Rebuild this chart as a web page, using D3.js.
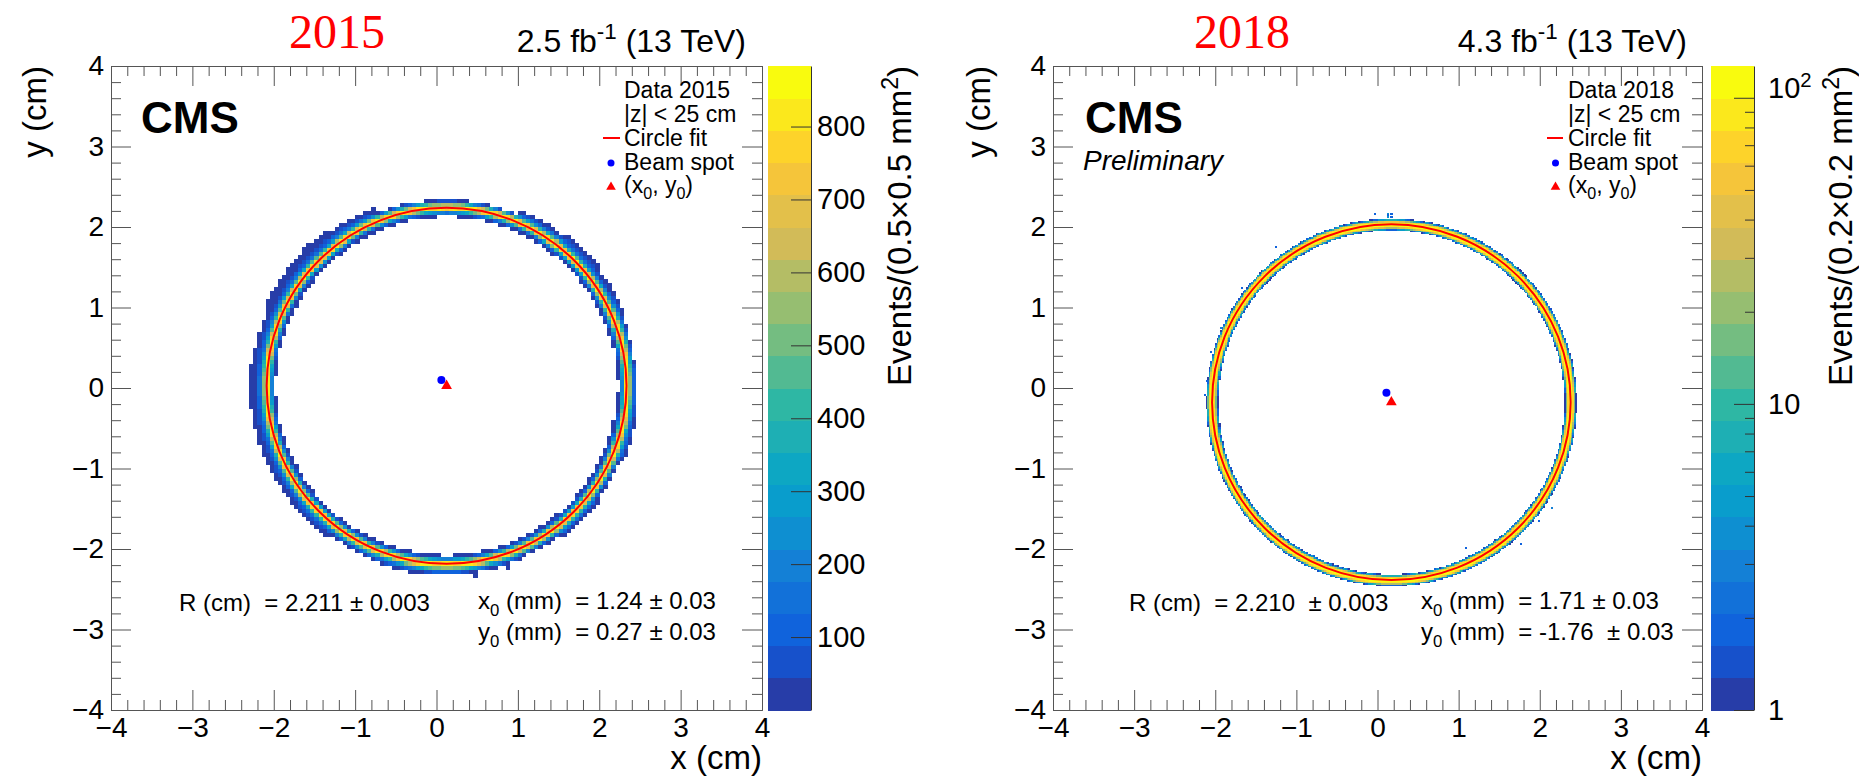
<!DOCTYPE html>
<html><head><meta charset="utf-8">
<script src="https://cdn.jsdelivr.net/npm/d3@7"></script>
<style>
body{margin:0;background:#fff}
text{font-family:"Liberation Sans",Arial,Helvetica,sans-serif;fill:#000;white-space:pre}
</style>
</head><body>
<svg id="c" width="1859" height="780"></svg>
<script>
// ---------------- data ----------------
const years = ["2015", "2018"];
const lumis = ["2.5", "4.3"];
const dataLabels = ["Data 2015", "Data 2018"];
const binSizeCm = [0.05, 0.02];
const binUnits = ["0.5\u00D70.5 mm", "0.2\u00D70.2 mm"];
const fitR = [2.211, 2.210];
const fitX0 = [0.124, 0.171];
const fitY0 = [0.027, -0.176];
const beamX = [0.06, 0.11];
const beamY = [0.10, -0.06];
const zMax = [883, 127];
const axisTicks = [-4, -3, -2, -1, 0, 1, 2, 3, 4];
const axisMinorTicks = [-3.8,-3.6,-3.4,-3.2,-2.8,-2.6,-2.4,-2.2,-1.8,-1.6,-1.4,-1.2,-0.8,-0.6,-0.4,-0.2,
  0.2,0.4,0.6,0.8,1.2,1.4,1.6,1.8,2.2,2.4,2.6,2.8,3.2,3.4,3.6,3.8];
const cbTicks2015 = [100, 200, 300, 400, 500, 600, 700, 800];
const cbTicks2018 = [1, 10, 100];
const cbMinor2018 = [2,3,4,5,6,7,8,9,20,30,40,50,60,70,80,90];
// radial profile of counts vs signed offset from the fitted circle (cm, + = outward)
const profStart = [-0.1, -0.08];
const profStep = [0.025, 0.01];
const profile2015 = [0, 60, 300, 650, 900, 750, 420, 200, 90, 50, 30, 20, 15, 0];
const profile2018 = [0, 1, 3, 12, 40, 80, 105, 115, 120, 115, 105, 80, 40, 12, 3, 1, 0];
// 2015 outer halo extent (cm) per 15-degree sector, starting at 0 deg (right), counter-clockwise
const halo2015 = [0.11,0.09,0.12,0.16,0.12,0.07,0.08,0.08,0.15,0.2,0.2,0.16,0.18,0.17,0.16,0.16,0.1,0.12,0.1,0.1,0.08,0.12,0.08,0.13];
// isolated hits
const stray2015X = [1.64, 0.86, 0.47, -1.95];
const stray2015Y = [-1.78, -2.21, -2.32, -1.05];
const stray2015V = [30, 20, 25, 30];
const stray2018X = [0.12,0.14,0.16,0.12,0.12,0.14,0.16,-0.03,-2.11,-2.12,-1.94,-1.66,2.15,1.98,1.76,2.0,-2.05,-1.25,1.1];
const stray2018Y = [2.17,2.17,2.17,2.15,2.13,2.13,2.13,2.17,0.10,-0.10,0.76,1.24,-1.49,-1.65,-1.94,1.12,0.45,1.75,-2.0];
const stray2018V = [2,2,2,2,2,2,2,2,2,2,3,2,3,2,2,2,2,2,2];
const statNames = [["R (cm)", "x0 (mm)", "y0 (mm)"], ["R (cm)", "x0 (mm)", "y0 (mm)"]];
const statVals = [["2.211", "1.24", "0.27"], ["2.210", "1.71", "-1.76"]];
const statErrs = [["0.003", "0.03", "0.03"], ["0.003", "0.03", "0.03"]];

// ---------------- layout ----------------
const L = [
  {fx0:111, fx1:762, cb0:767.5, cb1:811, cbLab:817, cbTitleX:911, yLabX:46, yearX:337, cmsX:141, lumiX:746,
   legX:624, legMX:611, legL0:603, legL1:620,
   statPos:[[179,611],[478,609],[478,640]], pmGap:[" ", " ", " "]},
  {fx0:1053, fx1:1702, cb0:1711, cb1:1754, cbLab:1768, cbTitleX:1852, yLabX:990, yearX:1242, cmsX:1085, lumiX:1687,
   legX:1568, legMX:1555.5, legL0:1547, legL1:1563,
   statPos:[[1129,611],[1421,609],[1421,640]], pmGap:["  ", " ", "  "]}
];
const FY0 = 66, FY1 = 710;
const legBase = [98, 122, 146, 170, 193];

const bird = d3.scaleLinear()
  .domain([0,.125,.25,.375,.5,.625,.75,.875,1])
  .range(["#352a87","#0f5cdd","#1481d6","#06a4ca","#2eb7a4","#87bf77","#d1bb59","#fec832","#f9fb0e"]);
const bandColors = d3.range(20).map(i => bird(Math.floor((i + 0.99) * 255 / 20) / 254));

const svg = d3.select("#c");

function lookup(prof, st, sp, d) {
  const k = Math.round((d - st) / sp);
  return (k >= 0 && k < prof.length) ? prof[k] : 0;
}

function buildBins(p) {
  const bs = binSizeCm[p];
  const lo = axisTicks[0], hi = axisTicks[axisTicks.length-1];
  const nb = Math.round((hi - lo) / bs);
  const R = fitR[p], cx0 = fitX0[p], cy0 = fitY0[p];
  const prof = p === 0 ? profile2015 : profile2018;
  const st = profStart[p], sp = profStep[p];
  const ns = p === 0 ? 5 : 4;
  const bins = new Map();
  for (let i = 0; i < nb; i++) {
    const xl = lo + i*bs;
    for (let j = 0; j < nb; j++) {
      const yl = lo + j*bs;
      const rc = Math.hypot(xl + bs/2 - cx0, yl + bs/2 - cy0);
      if (Math.abs(rc - R) > 0.3) continue;
      let sum = 0;
      for (let a = 0; a < ns; a++) for (let b = 0; b < ns; b++) {
        const sx = xl + (a+0.5)*bs/ns - cx0, sy = yl + (b+0.5)*bs/ns - cy0;
        const d = Math.hypot(sx, sy) - R;
        let v = lookup(prof, st, sp, d);
        if (p === 0 && d > 0.04) {
          const ang = (Math.atan2(sy, sx)*180/Math.PI + 360) % 360;
          const sec = Math.round(ang/15) % 24;
          if (d > halo2015[sec]) v = 0;
        }
        sum += v;
      }
      const val = sum/(ns*ns);
      if (val > 0) bins.set(i*nb + j, {x: xl, y: yl, v: val});
    }
  }
  const sX = p === 0 ? stray2015X : stray2018X;
  const sY = p === 0 ? stray2015Y : stray2018Y;
  const sV = p === 0 ? stray2015V : stray2018V;
  sX.forEach((x, k) => {
    const i = Math.floor((x - lo)/bs), j = Math.floor((sY[k] - lo)/bs);
    const key = i*nb + j;
    const b = bins.get(key);
    if (b) b.v += sV[k]; else bins.set(key, {x: lo + i*bs, y: lo + j*bs, v: sV[k]});
  });
  return Array.from(bins.values());
}

function subText(sel, parts, fs) {
  let shift = 0;
  parts.forEach(([s, k]) => {
    const t = sel.append("tspan").text(s);
    let target = 0;
    if (k === "sub") { t.attr("font-size", fs*0.7); target = fs*0.28; }
    else if (k === "sup") { t.attr("font-size", fs*0.7); target = -fs*0.4; }
    t.attr("dy", target - shift);
    shift = target;
  });
}

function drawPanel(p) {
  const c = L[p];
  const g = svg.append("g");
  const x = d3.scaleLinear().domain([axisTicks[0], axisTicks[8]]).range([c.fx0, c.fx1]);
  const y = d3.scaleLinear().domain([axisTicks[0], axisTicks[8]]).range([FY1, FY0]);
  const bs = binSizeCm[p];

  // histogram cells
  const bins = buildBins(p);
  const zm = zMax[p];
  const band = p === 0
    ? v => Math.min(19, Math.floor(v/zm*20))
    : v => v < 1 ? -1 : Math.min(19, Math.floor(Math.log10(v)/Math.log10(zm)*20));
  g.append("g").attr("shape-rendering", "crispEdges")
    .selectAll("rect").data(bins.filter(b => band(b.v) >= 0)).join("rect")
    .attr("x", b => x(b.x)).attr("y", b => y(b.y + bs))
    .attr("width", b => x(b.x + bs) - x(b.x) + 0.4)
    .attr("height", b => y(b.y) - y(b.y + bs) + 0.4)
    .attr("fill", b => bandColors[band(b.v)]);

  // fit circle
  g.append("ellipse")
    .attr("cx", x(fitX0[p])).attr("cy", y(fitY0[p]))
    .attr("rx", x(fitX0[p] + fitR[p]) - x(fitX0[p]))
    .attr("ry", y(fitY0[p]) - y(fitY0[p] + fitR[p]))
    .attr("fill", "none").attr("stroke", "#ff0000").attr("stroke-width", 2);

  // beam spot & fitted centre
  g.append("circle").attr("cx", x(beamX[p])).attr("cy", y(beamY[p])).attr("r", 4).attr("fill", "#0000ff");
  const tri = d3.symbol().type(d3.symbolTriangle).size(50);
  g.append("path").attr("d", tri).attr("fill", "#ff0000")
    .attr("transform", `translate(${x(fitX0[p])},${y(fitY0[p])})`);

  // axes (ticks inside the frame)
  const axStyle = s => { s.selectAll("path,line").attr("stroke", "#555"); s.selectAll("text").remove(); };
  const major = 20, minor = 10;
  const axB = g.append("g").attr("transform", `translate(0,${FY1})`)
    .call(d3.axisBottom(x).tickValues(axisTicks).tickSize(-major).tickSizeOuter(0).tickPadding(7).tickFormat(d3.format("d")));
  axB.selectAll("path,line").attr("stroke", "#555");
  axB.selectAll("text").attr("font-size", 28).attr("font-family", "Liberation Sans, Arial").attr("fill", "#000");
  g.append("g").attr("transform", `translate(0,${FY1})`)
    .call(d3.axisBottom(x).tickValues(axisMinorTicks).tickSize(-minor).tickSizeOuter(0)).call(axStyle);
  const axL = g.append("g").attr("transform", `translate(${c.fx0},0)`)
    .call(d3.axisLeft(y).tickValues(axisTicks).tickSize(-major).tickSizeOuter(0).tickPadding(7).tickFormat(d3.format("d")));
  axL.selectAll("path,line").attr("stroke", "#555");
  axL.selectAll("text").attr("font-size", 28).attr("font-family", "Liberation Sans, Arial").attr("fill", "#000");
  g.append("g").attr("transform", `translate(${c.fx0},0)`)
    .call(d3.axisLeft(y).tickValues(axisMinorTicks).tickSize(-minor).tickSizeOuter(0)).call(axStyle);
  g.append("g").attr("transform", `translate(0,${FY0})`)
    .call(d3.axisTop(x).tickValues(axisTicks).tickSize(-major).tickSizeOuter(0)).call(axStyle);
  g.append("g").attr("transform", `translate(0,${FY0})`)
    .call(d3.axisTop(x).tickValues(axisMinorTicks).tickSize(-minor).tickSizeOuter(0)).call(axStyle);
  g.append("g").attr("transform", `translate(${c.fx1},0)`)
    .call(d3.axisRight(y).tickValues(axisTicks).tickSize(-major).tickSizeOuter(0)).call(axStyle);
  g.append("g").attr("transform", `translate(${c.fx1},0)`)
    .call(d3.axisRight(y).tickValues(axisMinorTicks).tickSize(-minor).tickSizeOuter(0)).call(axStyle);

  // axis titles
  g.append("text").attr("x", c.fx1).attr("y", 769).attr("text-anchor", "end").attr("font-size", 33).text("x (cm)");
  g.append("text").attr("transform", `translate(${c.yLabX},${FY0}) rotate(-90)`).attr("text-anchor", "end")
    .attr("font-size", 33).text("y (cm)");

  // colour bar
  const cbScale = p === 0
    ? d3.scaleLinear().domain([0, zm]).range([FY1, FY0])
    : d3.scaleLog().domain([1, zm]).range([FY1, FY0]);
  const edges = d3.range(21).map(i => p === 0 ? i*zm/20 : Math.pow(10, i*Math.log10(zm)/20));
  g.append("g").attr("shape-rendering", "crispEdges").selectAll("rect").data(d3.range(20)).join("rect")
    .attr("x", c.cb0).attr("width", c.cb1 - c.cb0)
    .attr("y", i => cbScale(edges[i+1])).attr("height", i => cbScale(edges[i]) - cbScale(edges[i+1]) + 0.5)
    .attr("fill", i => bandColors[i]);
  const cbAx = g.append("g").attr("transform", `translate(${c.cb1},0)`)
    .call(d3.axisRight(cbScale).tickValues(p === 0 ? cbTicks2015 : cbTicks2018)
      .tickSize(-20).tickSizeOuter(0).tickPadding(c.cbLab - c.cb1).tickFormat(d => d));
  cbAx.selectAll("path,line").attr("stroke", "#333");
  cbAx.selectAll("text").attr("font-size", 29).attr("font-family", "Liberation Sans, Arial").attr("fill", "#000");
  if (p === 1) {
    cbAx.selectAll("text").each(function(d) {
      const t = d3.select(this);
      if (d === 100) { t.text(""); subText(t, [["10", "n"], ["2", "sup"]], 29); }
    });
    g.append("g").attr("transform", `translate(${c.cb1},0)`)
      .call(d3.axisRight(cbScale).tickValues(cbMinor2018).tickSize(-9).tickSizeOuter(0))
      .call(s => { s.select("path").remove(); s.selectAll("line").attr("stroke", "#333"); s.selectAll("text").remove(); });
  }
  const cbt = g.append("text").attr("transform", `translate(${c.cbTitleX},${FY0}) rotate(-90)`)
    .attr("text-anchor", "end").attr("font-size", 33);
  subText(cbt, [["Events/(" + binUnits[p], "n"], ["2", "sup"], [")", "n"]], 33);

  // header
  g.append("text").attr("x", c.yearX).attr("y", 48).attr("text-anchor", "middle")
    .style("font-family", "'Liberation Serif', 'Times New Roman', serif")
    .attr("font-size", 48).style("fill", "#ff0000").text(years[p]);
  const lt = g.append("text").attr("x", c.lumiX).attr("y", 52).attr("text-anchor", "end").attr("font-size", 32);
  subText(lt, [[lumis[p] + " fb", "n"], ["-1", "sup"], [" (13 TeV)", "n"]], 32);
  g.append("text").attr("x", c.cmsX).attr("y", 133).attr("font-size", 44).attr("font-weight", "bold").text("CMS");
  if (p === 1) g.append("text").attr("x", c.cmsX - 2).attr("y", 170).attr("font-size", 28)
    .attr("font-style", "italic").text("Preliminary");

  // legend
  const lg = g.append("g").attr("font-size", 23);
  lg.append("text").attr("x", c.legX).attr("y", legBase[0]).text(dataLabels[p]);
  lg.append("text").attr("x", c.legX).attr("y", legBase[1]).text("|z| < 25 cm");
  lg.append("text").attr("x", c.legX).attr("y", legBase[2]).text("Circle fit");
  lg.append("text").attr("x", c.legX).attr("y", legBase[3]).text("Beam spot");
  const lx = lg.append("text").attr("x", c.legX).attr("y", legBase[4]);
  subText(lx, [["(x", "n"], ["0", "sub"], [", y", "n"], ["0", "sub"], [")", "n"]], 23);
  lg.append("line").attr("x1", c.legL0).attr("x2", c.legL1).attr("y1", legBase[2] - 8).attr("y2", legBase[2] - 8)
    .attr("stroke", "#ff0000").attr("stroke-width", 2);
  lg.append("circle").attr("cx", c.legMX).attr("cy", legBase[3] - 7).attr("r", 3.5).attr("fill", "#0000ff");
  lg.append("path").attr("d", d3.symbol().type(d3.symbolTriangle).size(40)).attr("fill", "#ff0000")
    .attr("transform", `translate(${c.legMX},${legBase[4] - 6})`);

  // fit results
  const sg = g.append("g").attr("font-size", 24);
  for (let r = 0; r < 3; r++) {
    const [nx, by] = c.statPos[r];
    const nt = sg.append("text").attr("x", nx).attr("y", by);
    const nm = statNames[p][r];
    const tail = "  = " + statVals[p][r] + c.pmGap[r] + "\u00B1 " + statErrs[p][r];
    if (r === 0) nt.text(nm + tail);
    else subText(nt, [[nm[0], "n"], [nm[1], "sub"], [nm.slice(2) + tail, "n"]], 24);
  }
}

drawPanel(0);
drawPanel(1);
</script>
</body></html>
